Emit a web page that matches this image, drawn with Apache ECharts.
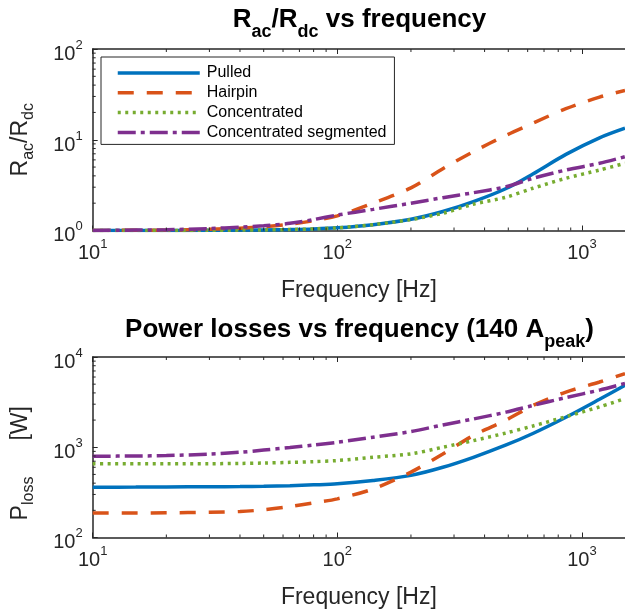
<!DOCTYPE html>
<html><head><meta charset="utf-8">
<script src="https://cdn.jsdelivr.net/npm/echarts@6/dist/echarts.min.js"></script>
<style>html,body{margin:0;padding:0;background:#fff}#c{width:625px;height:613px}</style>
</head><body><div id="c"></div>
<script>
// ---- data ----
const freq = [10, 15, 20, 30, 40, 50, 64, 80, 100, 140, 200, 270, 360, 490, 630, 860, 1180, 1500];
const seriesNames = ['Pulled', 'Hairpin', 'Concentrated', 'Concentrated segmented'];
// Rac/Rdc
const racPulled = [1.0, 1.0, 1.0, 1.005, 1.01, 1.015, 1.025, 1.04, 1.07, 1.16, 1.33, 1.62, 2.08, 2.9, 4.2, 6.9, 10.5, 13.4];
const racHairpin = [1.0, 1.005, 1.01, 1.03, 1.06, 1.1, 1.17, 1.28, 1.45, 2.0, 2.95, 4.8, 7.4, 11.2, 15.2, 22, 29.5, 35];
const racConc = [1.0, 1.0, 1.0, 1.005, 1.01, 1.015, 1.025, 1.04, 1.07, 1.16, 1.32, 1.55, 1.95, 2.33, 2.92, 3.76, 4.64, 5.5];
const racSeg = [1.0, 1.01, 1.02, 1.05, 1.09, 1.13, 1.2, 1.32, 1.48, 1.71, 2.0, 2.3, 2.61, 3.04, 3.76, 4.64, 5.5, 6.5];
// Power losses [W]
const pPulled = [361, 362, 363, 365, 367, 370, 375, 383, 393, 428, 488, 600, 774, 1060, 1420, 2150, 3400, 4860];
const pHairpin = [187, 187, 188, 190, 194, 203, 220, 242, 268, 345, 530, 843, 1350, 2000, 2900, 4090, 5280, 6550];
const pConc = [655, 655, 655, 657, 662, 668, 680, 693, 712, 774, 845, 1000, 1185, 1440, 1720, 2180, 2800, 3460];
const pSeg = [795, 800, 809, 840, 880, 930, 993, 1060, 1135, 1290, 1493, 1767, 2057, 2450, 2900, 3550, 4300, 5100];
// minor tick values (log axes)
const xMinorTicks = [20, 30, 40, 50, 60, 70, 80, 90, 200, 300, 400, 500, 600, 700, 800, 900];
const racMinorTicks = [2, 3, 4, 5, 6, 7, 8, 9, 20, 30, 40, 50, 60, 70, 80, 90];
const pMinorTicks = [200, 300, 400, 500, 600, 700, 800, 900, 2000, 3000, 4000, 5000, 6000, 7000, 8000, 9000];

// ---- styling ----
const FONT = '"Liberation Sans", Arial, Helvetica, sans-serif';
const AX = '#262626';
const colors = ['#0072BD', '#D95319', '#77AC30', '#7E2F8E'];
const dashes = ['solid', [16, 13], [3, 4.5], [18, 5, 4, 5]];
const LW = 3.5;

const tickRich = {
  b: {fontSize: 20, fontFamily: FONT, color: AX, lineHeight: 25.5, verticalAlign: 'bottom'},
  s: {fontSize: 13, fontFamily: FONT, color: AX, lineHeight: 13, verticalAlign: 'top'}
};
function powLabel(v) {
  const l = Math.log10(v), e = Math.round(l);
  return Math.abs(l - e) < 1e-6 ? '{b|10}{s|' + e + '}' : '';
}
const nameRich = {
  m: {fontSize: 23, fontFamily: FONT, color: AX, lineHeight: 23, verticalAlign: 'top'},
  s: {fontSize: 16, fontFamily: FONT, color: AX, lineHeight: 28, verticalAlign: 'bottom'},
  g: {fontSize: 23, fontFamily: FONT, width: 36, lineHeight: 23, verticalAlign: 'top'}
};
const titleRich = {
  m: {fontSize: 26, fontWeight: 'bold', fontFamily: FONT, color: '#000', lineHeight: 26, verticalAlign: 'top'},
  s: {fontSize: 18, fontWeight: 'bold', fontFamily: FONT, color: '#000', lineHeight: 34, verticalAlign: 'bottom'}
};

const XMIN = 10, XMAX = 1500;
const YR = [[1, 100], [100, 10000]];
function xAx(grid, pos, showLabels) {
  return {
    type: 'log', logBase: 10, gridIndex: grid, position: pos, min: XMIN, max: XMAX,
    axisLine: {show: true, onZero: false, lineStyle: {color: AX, width: 1.5}},
    axisTick: {show: true, inside: true, length: 5, lineStyle: {color: AX, width: 1}},
    splitLine: {show: false},
    axisLabel: showLabels ? {show: true, margin: 7.6, formatter: powLabel, rich: tickRich, showMaxLabel: false} : {show: false},
    name: showLabels ? 'Frequency [Hz]' : '',
    nameLocation: 'middle', nameGap: 49,
    nameTextStyle: {fontSize: 23, fontFamily: FONT, color: AX}
  };
}
function yAx(grid, name, namePad) {
  return {
    type: 'log', logBase: 10, gridIndex: grid, min: YR[grid][0], max: YR[grid][1],
    axisLine: {show: true, onZero: false, lineStyle: {color: AX, width: 1.5}},
    axisTick: {show: true, inside: true, length: 5, lineStyle: {color: AX, width: 1}},
    splitLine: {show: false},
    axisLabel: {show: true, margin: 10, formatter: powLabel, rich: tickRich, padding: [5, 0, 0, 0]},
    name: name, nameLocation: 'middle', nameGap: 56, nameRotate: 90,
    nameTextStyle: {rich: nameRich, padding: namePad}
  };
}

function mk(i, data, xi, yi) {
  return {
    name: seriesNames[i], type: 'line', xAxisIndex: xi, yAxisIndex: yi,
    data: freq.map((f, k) => [f, data[k]]),
    symbol: 'none', smooth: 0.3, clip: true,
    lineStyle: {color: colors[i], width: LW, type: dashes[i], cap: 'butt'},
    itemStyle: {color: colors[i]}
  };
}
// minor ticks drawn through the axes' own scales
function minorX(grid, xi, yi) {
  return {
    type: 'custom', xAxisIndex: xi, yAxisIndex: yi, silent: true, clip: false, z: 5,
    data: xMinorTicks.map(v => [v, YR[grid][0], YR[grid][1]]),
    renderItem: function (params, api) {
      const a = api.coord([api.value(0), api.value(1)]);
      const b = api.coord([api.value(0), api.value(2)]);
      const st = {stroke: AX, lineWidth: 1};
      return {type: 'group', children: [
        {type: 'line', shape: {x1: a[0], y1: a[1], x2: a[0], y2: a[1] - 3}, style: st},
        {type: 'line', shape: {x1: b[0], y1: b[1], x2: b[0], y2: b[1] + 3}, style: st}
      ]};
    }
  };
}
function minorY(ticks, xi, yi) {
  return {
    type: 'custom', xAxisIndex: xi, yAxisIndex: yi, silent: true, clip: false, z: 5,
    data: ticks.map(v => [XMIN, v]),
    renderItem: function (params, api) {
      const a = api.coord([api.value(0), api.value(1)]);
      return {type: 'line', shape: {x1: a[0], y1: a[1], x2: a[0] + 3, y2: a[1]}, style: {stroke: AX, lineWidth: 1}};
    }
  };
}

const chart = echarts.init(document.getElementById('c'), null, {renderer: 'canvas'});
chart.setOption({
  animation: false,
  backgroundColor: '#fff',
  title: [
    {text: '{m|R}{s|ac}{m|/R}{s|dc}{m| vs frequency}', left: 359.5, top: 7, textAlign: 'center', padding: 0,
     textStyle: {rich: titleRich}},
    {text: '{m|Power losses vs frequency (140 A}{s|peak}{m|)}', left: 359.5, top: 317, textAlign: 'center', padding: 0,
     textStyle: {rich: titleRich}}
  ],
  grid: [
    {left: 92.7, top: 49, width: 532.7, height: 181.5},
    {left: 92.7, top: 357, width: 532.7, height: 180.5}
  ],
  xAxis: [xAx(0, 'bottom', true), xAx(0, 'top', false), xAx(1, 'bottom', true), xAx(1, 'top', false)],
  yAxis: [
    yAx(0, '{m|R}{s|ac}{m|/R}{s|dc}', 0),
    yAx(1, '{m|P}{s|loss}{g| }{m|[W]}', [0, 32, 0, 0])
  ],
  legend: {
    orient: 'vertical', left: 101, top: 57,
    padding: [8, 8, 4, 15],
    itemWidth: 82, itemHeight: 16, itemGap: 3.8,
    borderColor: AX, borderWidth: 1, backgroundColor: '#fff',
    itemStyle: {opacity: 0},
    lineStyle: {width: LW},
    textStyle: {fontSize: 16, fontFamily: FONT, color: '#000', padding: [0, 0, 0, 2]},
    data: seriesNames
  },
  series: [
    mk(0, racPulled, 0, 0), mk(1, racHairpin, 0, 0), mk(2, racConc, 0, 0), mk(3, racSeg, 0, 0),
    mk(0, pPulled, 2, 1), mk(1, pHairpin, 2, 1), mk(2, pConc, 2, 1), mk(3, pSeg, 2, 1),
    minorX(0, 0, 0), minorX(1, 2, 1),
    minorY(racMinorTicks, 0, 0), minorY(pMinorTicks, 2, 1)
  ]
});
</script>
</body></html>
